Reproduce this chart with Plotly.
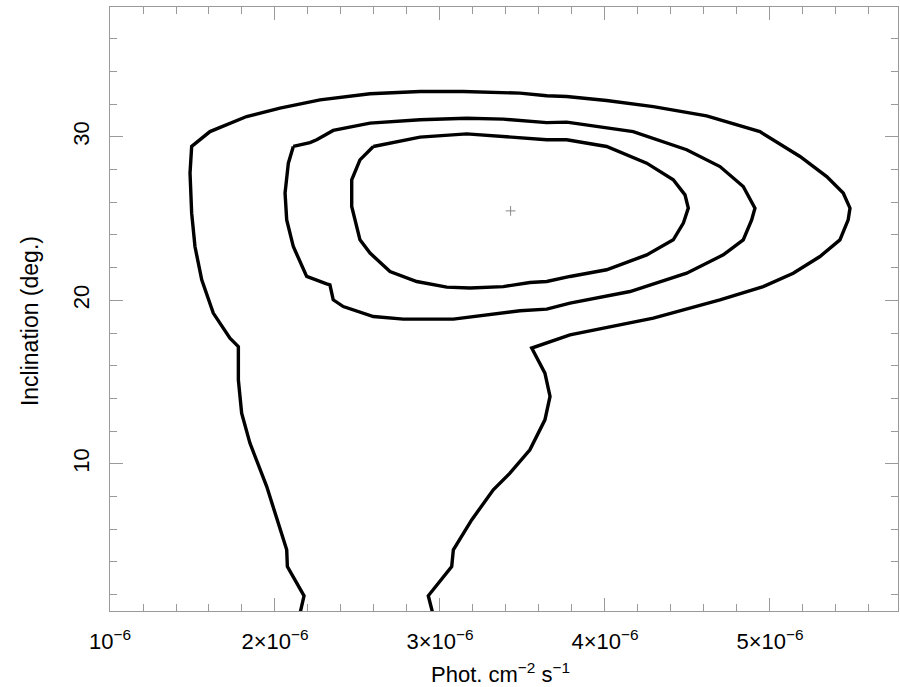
import plotly.graph_objects as go

# Confidence contours: photon flux (in units of 1e-6 phot cm^-2 s^-1) vs inclination (deg.)
FLUX_UNIT = 1e-6

outer_flux = [2.152, 2.176, 2.075, 2.071, 1.950, 1.848, 1.798, 1.778, 1.778, 1.727,
              1.626, 1.556, 1.515, 1.495, 1.485, 1.495, 1.606, 1.828, 2.030, 2.273,
              2.576, 2.879, 3.141, 3.485, 3.647, 3.768, 4.010, 4.293, 4.616, 4.939,
              5.182, 5.344, 5.444, 5.485, 5.474, 5.424, 5.303, 5.141, 4.959, 4.697,
              4.293, 3.848, 3.788, 3.556, 3.636, 3.667, 3.636, 3.545, 3.424, 3.323,
              3.192, 3.081, 3.071, 2.929, 2.956]
outer_incl = [0.87, 1.93, 3.72, 4.74, 8.61, 11.27, 13.10, 15.14, 17.17, 17.69,
              19.22, 21.25, 23.29, 25.33, 27.78, 29.41, 30.32, 31.24, 31.76, 32.26,
              32.63, 32.77, 32.77, 32.67, 32.51, 32.47, 32.22, 31.85, 31.28, 30.32,
              28.80, 27.57, 26.56, 25.64, 24.92, 23.70, 22.68, 21.66, 20.84, 20.03,
              18.91, 17.99, 17.89, 17.08, 15.55, 14.12, 12.69, 10.86, 9.43, 8.41,
              6.57, 4.74, 3.72, 1.93, 0.87]

middle_flux = [2.111, 2.212, 2.253, 2.353, 2.576, 2.879, 3.162, 3.384, 3.647, 3.768,
               4.171, 4.495, 4.697, 4.838, 4.909, 4.889, 4.838, 4.717, 4.495, 4.152,
               3.788, 3.647, 3.485, 3.283, 3.081, 2.778, 2.596, 2.414, 2.353, 2.333,
               2.313, 2.192, 2.111, 2.071, 2.061, 2.081, 2.111]
middle_incl = [29.41, 29.65, 29.82, 30.39, 30.84, 31.04, 31.14, 31.08, 30.87, 30.90,
               30.32, 29.21, 28.18, 26.96, 25.64, 24.92, 23.70, 22.78, 21.66, 20.54,
               19.83, 19.46, 19.36, 19.08, 18.85, 18.85, 19.01, 19.62, 20.03, 20.95,
               21.01, 21.46, 23.29, 24.92, 26.56, 28.39, 29.41]

inner_flux = [2.596, 2.879, 3.162, 3.384, 3.647, 3.768, 4.010, 4.253, 4.414, 4.485,
              4.505, 4.475, 4.414, 4.253, 4.010, 3.788, 3.647, 3.545, 3.384, 3.182,
              3.041, 2.859, 2.697, 2.576, 2.515, 2.465, 2.465, 2.515, 2.596]
inner_incl = [29.41, 29.98, 30.18, 30.02, 29.82, 29.82, 29.41, 28.39, 27.37, 26.45,
              25.64, 24.72, 23.70, 22.78, 21.87, 21.46, 21.15, 21.09, 20.84, 20.75,
              20.81, 21.15, 21.76, 22.89, 23.70, 25.74, 27.37, 28.59, 29.41]

best_fit_flux = [3.428]
best_fit_incl = [25.47]

x_tick_vals = [1, 2, 3, 4, 5]
x_tick_text = ["10<sup>−6</sup>", "2×10<sup>−6</sup>", "3×10<sup>−6</sup>",
               "4×10<sup>−6</sup>", "5×10<sup>−6</sup>"]
y_tick_vals = [10, 20, 30]

x_range = [1.0, 5.776]
y_range = [1.0, 37.94]

x_title = "Phot. cm<sup>−2</sup> s<sup>−1</sup>"
y_title = "Inclination (deg.)"

FONT = "Liberation Sans, Arial, Helvetica, sans-serif"
AXIS_GREY = "#9a9a9a"


def scaled(vals):
    return [v * FLUX_UNIT for v in vals]


fig = go.Figure()
for fx, fy in [(outer_flux, outer_incl), (middle_flux, middle_incl), (inner_flux, inner_incl)]:
    fig.add_trace(go.Scatter(x=scaled(fx), y=fy, mode="lines",
                             line=dict(color="black", width=3.4),
                             hoverinfo="skip", showlegend=False))

fig.add_trace(go.Scatter(x=scaled(best_fit_flux), y=best_fit_incl, mode="markers",
                         marker=dict(symbol="cross-thin", size=7,
                                     line=dict(color="#888888", width=1)),
                         showlegend=False))

# companion axes carrying the mirrored tick marks on the top and right frame edges
fig.add_trace(go.Scatter(x=scaled(x_range), y=y_range, mode="markers",
                         marker=dict(opacity=0), xaxis="x2", yaxis="y2",
                         hoverinfo="skip", showlegend=False))

common = dict(showgrid=False, zeroline=False, showline=True, linecolor=AXIS_GREY,
              linewidth=1, ticks="inside", tickcolor=AXIS_GREY, tickwidth=1)

x_common = dict(common, range=scaled(x_range), tickmode="array",
                tickvals=scaled(x_tick_vals), ticklen=13,
                minor=dict(ticks="inside", tick0=FLUX_UNIT, dtick=0.2 * FLUX_UNIT,
                           ticklen=7, tickcolor=AXIS_GREY, tickwidth=1))
y_common = dict(common, range=y_range, tickmode="array", tickvals=y_tick_vals,
                ticklen=13,
                minor=dict(ticks="inside", tick0=0, dtick=2, ticklen=7,
                           tickcolor=AXIS_GREY, tickwidth=1))

fig.update_layout(
    width=900, height=687,
    margin=dict(l=110, r=2, t=7, b=76),
    paper_bgcolor="white", plot_bgcolor="white",
    font=dict(family=FONT, size=22, color="black"),
    xaxis=dict(x_common, ticktext=x_tick_text, ticklabelstandoff=11),
    yaxis=dict(y_common, tickangle=-90, ticklabelstandoff=11),
    xaxis2=dict(x_common, overlaying="x", side="top", anchor="y2", showticklabels=False),
    yaxis2=dict(y_common, overlaying="y", side="right", anchor="x2", showticklabels=False),
    annotations=[
        dict(text=x_title, xref="paper", yref="paper", x=0.496, y=-0.1026,
             xanchor="center", yanchor="middle", showarrow=False,
             font=dict(size=22)),
        dict(text=y_title, xref="paper", yref="paper", x=-0.1015, y=0.480,
             xanchor="center", yanchor="middle", textangle=-90, showarrow=False,
             font=dict(size=23)),
    ],
)

fig.write_html("out.html")
